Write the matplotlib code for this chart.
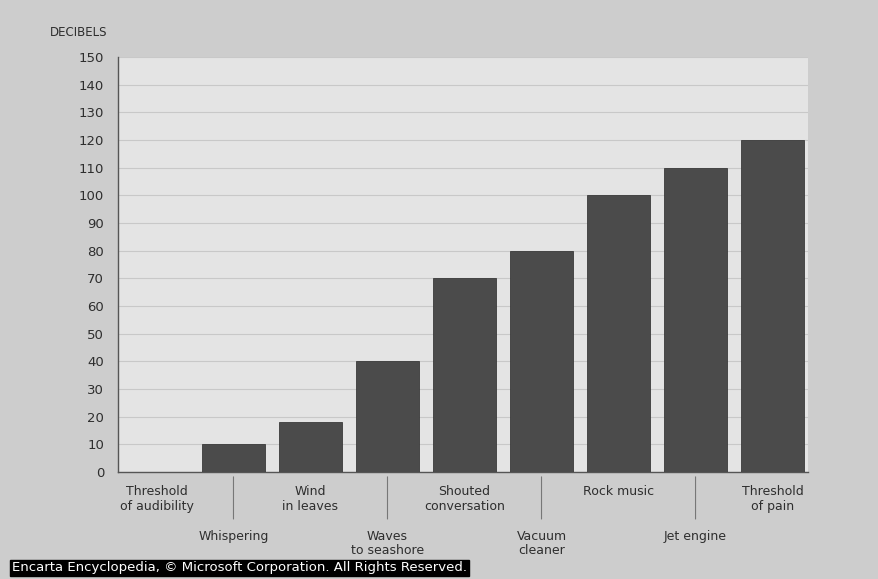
import numpy as np
import matplotlib
matplotlib.use("Agg")
import matplotlib.pyplot as plt

sounds = ["Threshold\nof audibility", "Whispering", "Wind\nin leaves", "Waves\nto seashore",
          "Shouted\nconversation", "Vacuum\ncleaner", "Rock music", "Jet engine",
          "Threshold\nof pain"]
decibels = [0, 10, 18, 40, 70, 80, 100, 110, 120]
yticks = list(range(0, 151, 10))

fig_bg = "#cdcdcd"
plot_bg = "#e4e4e4"
bar_col = "#4b4b4b"
txt = "#2e2e2e"

fig = plt.figure(figsize=(8.79, 5.79), dpi=100, facecolor=fig_bg)
ax = fig.add_axes([0.1342, 0.1848, 0.785, 0.7168])
ax.set_facecolor(plot_bg)

x = np.arange(len(sounds))
ax.bar(x, decibels, width=0.82, color=bar_col, edgecolor="#3a3a3a", linewidth=0.6, zorder=3)

ax.set_xlim(-0.5, 8.46)
ax.set_ylim(0, 150)
ax.set_yticks(yticks)
ax.set_yticklabels([str(v) for v in yticks], fontsize=9.5, color=txt)
ax.set_xticks([])
ax.tick_params(axis="y", length=0, pad=10)
ax.grid(axis="y", color="#c8c8c8", linewidth=0.8, zorder=0)
for s in ["top", "right"]:
    ax.spines[s].set_visible(False)
for s in ["left", "bottom"]:
    ax.spines[s].set_color("#555555")
    ax.spines[s].set_linewidth(1.0)

fig.text(107 / 879, 1 - 32 / 579, "DECIBELS", fontsize=8.5, color=txt, ha="right", va="center")

# staggered category labels, every second one pushed down with a leader line
for i, name in enumerate(sounds):
    if i % 2 == 0:
        ax.annotate(name, xy=(x[i], 0), xycoords=("data", "axes fraction"),
                    xytext=(0, -9), textcoords="offset points", ha="center", va="top",
                    fontsize=9, color=txt, linespacing=1.2, annotation_clip=False)
    else:
        ax.annotate(name, xy=(x[i], 0), xycoords=("data", "axes fraction"),
                    xytext=(0, -42), textcoords="offset points", ha="center", va="top",
                    fontsize=9, color=txt, linespacing=1.1, annotation_clip=False)
        ax.annotate("", xy=(x[i], -0.005), xycoords=("data", "axes fraction"),
                    xytext=(x[i], -0.12), textcoords=("data", "axes fraction"),
                    arrowprops=dict(arrowstyle="-", color="#777777", lw=0.8),
                    annotation_clip=False)

fig.text(12 / 879, 1 - 568 / 579,
         "Encarta Encyclopedia, \u00a9 Microsoft Corporation. All Rights Reserved.",
         fontsize=9.5, color="white", ha="left", va="center", zorder=5,
         bbox=dict(boxstyle="square,pad=0.15", facecolor="black", edgecolor="black"))

fig.savefig("out.png", dpi=100, facecolor=fig_bg)
